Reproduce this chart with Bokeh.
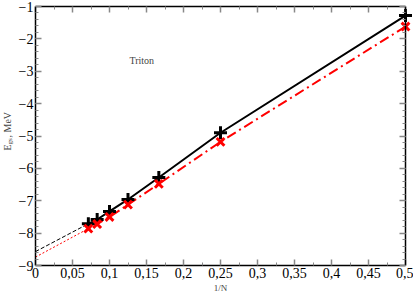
from bokeh.plotting import figure
from bokeh.models import (Range1d, LinearAxis, FixedTicker, CustomJSTickFormatter, Label)
from bokeh.embed import file_html
from bokeh.resources import INLINE
import math

# Data
inv_n = [0.5, 0.25, 1/6, 0.125, 0.1, 1/12, 1/14]
e_black = [-1.28, -4.90, -6.28, -6.96, -7.33, -7.58, -7.71]
e_red = [-1.62, -5.18, -6.48, -7.12, -7.50, -7.72, -7.86]
extrap_x = [0.0, 1/14]
extrap_black = [-8.57, -7.71]
extrap_red = [-8.74, -7.86]
x_ticks = [0, 0.05, 0.1, 0.15, 0.2, 0.25, 0.3, 0.35, 0.4, 0.45, 0.5]
y_ticks = [-9, -8, -7, -6, -5, -4, -3, -2, -1]

FONT = "Liberation Serif"
W, H = 413, 296
XS = 740.0          # px per x unit
YS = 259 / 8.0      # px per y unit
X0, X1 = -35 / XS, 0.5 + 8 / XS
Y0, Y1 = -9 - 31 / YS, -1 + 6 / YS

p = figure(frame_width=W, frame_height=H, output_backend="svg", toolbar_location=None,
           x_range=Range1d(X0, X1), y_range=Range1d(Y0, Y1),
           x_axis_location=None, y_axis_location=None, min_border=0)
p.grid.visible = False
p.outline_line_color = None

fmt = CustomJSTickFormatter(code="""
var s = String(Math.round(tick*1000)/1000);
return s.replace('.', ',').replace('-', '\u2212');
""")
blank = CustomJSTickFormatter(code="return '';")

x_minor = [0.025 + 0.05 * i for i in range(10)]
y_minor = [round(-9 + 0.2 * i, 2) for i in range(41)]

def style(ax, labels=True):
    ax.axis_line_color = "black"
    ax.axis_line_width = 1.5
    ax.major_tick_in = 6
    ax.major_tick_out = 0
    ax.minor_tick_in = 3
    ax.minor_tick_out = 0
    ax.major_tick_line_color = "#888888"
    ax.minor_tick_line_color = "#888888"
    ax.major_tick_line_width = 1.5
    ax.minor_tick_line_width = 1
    ax.major_label_text_font = FONT
    ax.major_label_text_font_size = "14px"
    ax.major_label_text_color = "black"
    if not labels:
        ax.major_label_text_font_size = "0px"
        ax.major_label_standoff = 0

xb = LinearAxis(ticker=FixedTicker(ticks=x_ticks, minor_ticks=x_minor), formatter=fmt,
                bounds=(0, 0.5), fixed_location=-9)
style(xb)
xb.major_label_standoff = 2
p.add_layout(xb, "below")

xt = LinearAxis(ticker=FixedTicker(ticks=x_ticks, minor_ticks=x_minor), formatter=blank,
                bounds=(0, 0.5), fixed_location=-1)
style(xt, labels=False)
p.add_layout(xt, "above")

yl = LinearAxis(ticker=FixedTicker(ticks=y_ticks, minor_ticks=y_minor), formatter=fmt,
                bounds=(-9, -1), fixed_location=0)
style(yl)
yl.major_label_standoff = 2
p.add_layout(yl, "left")

yr = LinearAxis(ticker=FixedTicker(ticks=y_ticks, minor_ticks=y_minor), formatter=blank,
                bounds=(-9, -1), fixed_location=0.5)
style(yr, labels=False)
p.add_layout(yr, "right")

# extrapolation lines
p.line(extrap_x, extrap_black, line_color="black", line_width=1, line_dash="4 2")
p.line(extrap_x, extrap_red, line_color="red", line_width=1, line_dash="2 2")

# main lines
p.line(inv_n, e_black, line_color="black", line_width=2)
p.line(inv_n, e_red, line_color="red", line_width=2, line_dash="10 4 2 4")

p.scatter(inv_n, e_black, marker="cross", size=13, line_color="black", line_width=3)
p.scatter(inv_n, e_red, marker="x", size=11, line_color="red", line_width=3)

p.add_layout(Label(x=0.127, y=-2.67, text="Triton",
                   text_font=FONT, text_font_size="10px", text_baseline="middle"))

# x axis title
p.add_layout(Label(x=0.25, y=-9.68, text="1/N", text_font=FONT,
                   text_font_size="9px", text_align="center", text_baseline="middle"))

# y axis title, rotated, with subscript (screen units)
p.add_layout(Label(x=7, y=H - 150, x_units="screen", y_units="screen", text="E",
                   text_font=FONT, text_font_size="10px",
                   angle=math.pi/2, text_baseline="middle", text_align="left"))
p.add_layout(Label(x=9, y=H - 144, x_units="screen", y_units="screen", text="gs",
                   text_font=FONT, text_font_size="7px",
                   angle=math.pi/2, text_baseline="middle", text_align="left"))
p.add_layout(Label(x=7, y=H - 137, x_units="screen", y_units="screen", text=", MeV",
                   text_font=FONT, text_font_size="10px",
                   angle=math.pi/2, text_baseline="middle", text_align="left"))

open("out.html", "w").write(file_html(p, INLINE))
